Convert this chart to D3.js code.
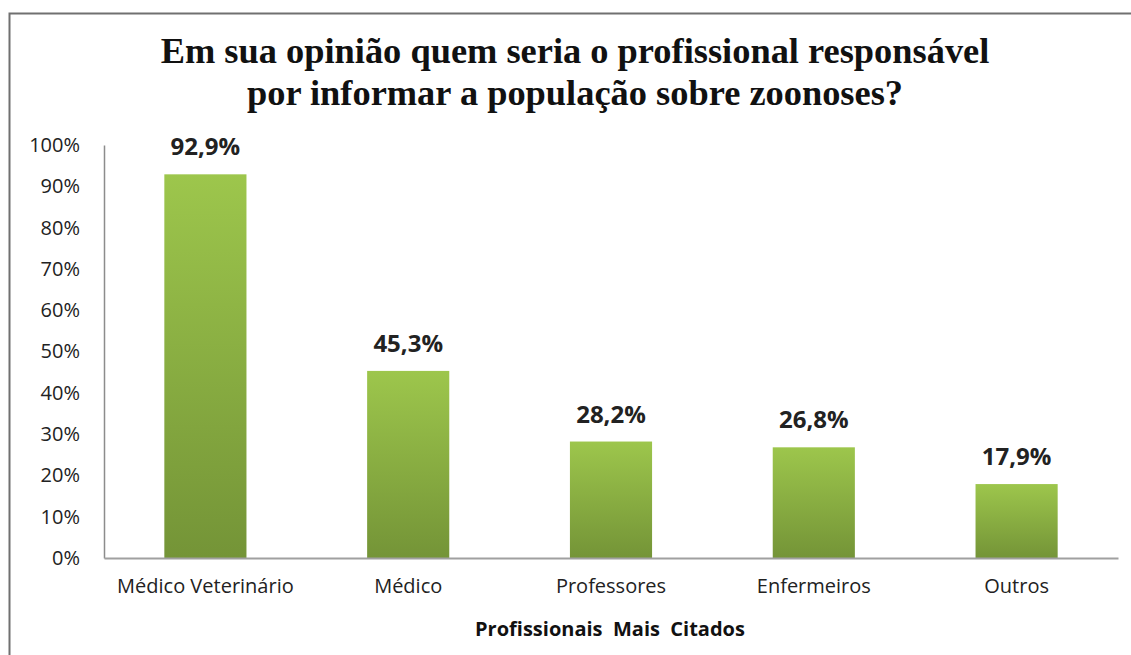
<!DOCTYPE html>
<html><head><meta charset="utf-8">
<script src="https://cdn.jsdelivr.net/npm/d3@7"></script>
<style>body{margin:0;background:#fff}svg{display:block}</style>
</head><body>
<svg id="c" width="1131" height="655"></svg>
<script>
const categories = ["Médico Veterinário","Médico","Professores","Enfermeiros","Outros"];
const values = [92.9, 45.3, 28.2, 26.8, 17.9];
const valueLabels = ["92,9%","45,3%","28,2%","26,8%","17,9%"];
const yTicks = [0,10,20,30,40,50,60,70,80,90,100];
const titleLines = ["Em sua opinião quem seria o profissional responsável","por informar a população sobre zoonoses?"];
const xTitle = "Profissionais  Mais  Citados";

(function(){
const svg = d3.select("#c");
const pLeft=104, pRight=1118, pTop=145, pBottom=558;
const sans = "'Open Sans','Noto Sans',sans-serif";
const defs = svg.append("defs");
const g = defs.append("linearGradient").attr("id","gr").attr("x1",0).attr("y1",0).attr("x2",0).attr("y2",1);
g.append("stop").attr("offset","0%").attr("stop-color","#9dc64c");
g.append("stop").attr("offset","100%").attr("stop-color","#749437");

// frame
svg.append("path").attr("d","M9.5,655 L9.5,13.5 L1131,13.5").attr("fill","none").attr("stroke","#707070").attr("stroke-width",2);

const x = d3.scaleBand().domain(categories).range([pLeft,pRight]).padding(0);
const y = d3.scaleLinear().domain([0,100]).range([pBottom,pTop]);

// title
svg.append("text").attr("text-anchor","middle")
  .style("font-family","'Liberation Serif','DejaVu Serif',serif").style("font-weight","bold").style("font-size","36.4px").attr("fill","#111")
  .selectAll("tspan").data(titleLines).join("tspan").attr("x",575).attr("y",(d,i)=>63+i*42).text(d=>d);

// y axis
const ya = svg.append("g").attr("transform",`translate(${pLeft},0)`)
  .call(d3.axisLeft(y).tickValues(yTicks).tickSize(0).tickPadding(24).tickFormat(d=>d+"%"));
ya.select(".domain").attr("stroke","#8c8c8c").attr("stroke-width",1.5);
ya.selectAll("text").style("font-family",sans).style("font-size","20px").attr("fill","#222");

// bars
const bw = x.bandwidth()*0.405;
svg.selectAll("rect.bar").data(values).join("rect").attr("class","bar")
  .attr("x",(d,i)=>x(categories[i])+x.bandwidth()/2-bw/2)
  .attr("y",d=>y(d)).attr("width",bw).attr("height",d=>pBottom-y(d))
  .attr("fill","url(#gr)");

// x axis
const xa = svg.append("g").attr("transform",`translate(0,${pBottom})`)
  .call(d3.axisBottom(x).tickSize(0).tickPadding(21));
xa.select(".domain").attr("stroke","#a0a0a0").attr("stroke-width",2);
xa.selectAll("text").style("font-family",sans).style("font-size","20px").attr("fill","#222");

// value labels
svg.selectAll("text.vl").data(values).join("text").attr("class","vl")
  .attr("x",(d,i)=>x(categories[i])+x.bandwidth()/2).attr("y",d=>y(d)-19)
  .attr("text-anchor","middle").style("font-family",sans)
  .style("font-weight","bold").style("font-size","24px").attr("fill","#222")
  .text((d,i)=>valueLabels[i]);

// x title
svg.append("text").attr("x",610).attr("y",636).attr("text-anchor","middle")
  .style("font-family",sans).style("font-weight","bold").style("font-size","20px").style("white-space","pre").attr("fill","#111")
  .text(xTitle);
})();
</script>
</body></html>
